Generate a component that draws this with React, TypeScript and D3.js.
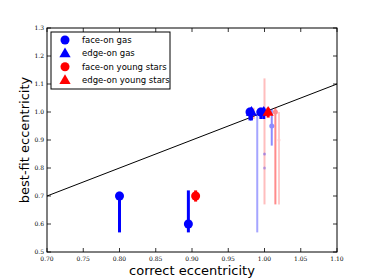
import React from 'react'
import * as d3 from 'd3'

// data
const xTicks = [0.7, 0.75, 0.8, 0.85, 0.9, 0.95, 1.0, 1.05, 1.1]
const yTicks = [0.5, 0.6, 0.7, 0.8, 0.9, 1.0, 1.1, 1.2, 1.3]

type Pt = { x: number; y: number; lo: number; hi: number; a: number; r: number }

const faceOnGas: Pt[] = [
  { x: 0.8, y: 0.7, lo: 0.57, hi: 0.715, a: 1, r: 4.5 },
  { x: 0.895, y: 0.6, lo: 0.57, hi: 0.72, a: 1, r: 4.5 },
  { x: 0.98, y: 1.0, lo: 0.97, hi: 1.015, a: 1, r: 4.5 },
  { x: 0.995, y: 1.0, lo: 0.975, hi: 1.015, a: 1, r: 4.5 },
  { x: 0.99, y: 1.0, lo: 0.57, hi: 1.0, a: 0.35, r: 1.5 },
  { x: 1.01, y: 0.95, lo: 0.88, hi: 1.01, a: 0.45, r: 2.5 },
  { x: 1.0, y: 0.85, lo: 0.85, hi: 0.85, a: 0.3, r: 1.5 },
  { x: 1.0, y: 0.8, lo: 0.8, hi: 0.8, a: 0.25, r: 1.5 },
]
const edgeOnGas: Pt[] = [
  { x: 0.982, y: 1.0, lo: 0.97, hi: 1.015, a: 1, r: 4 },
  { x: 0.999, y: 1.0, lo: 0.975, hi: 1.015, a: 1, r: 4 },
]
const faceOnStars: Pt[] = [
  { x: 0.905, y: 0.7, lo: 0.68, hi: 0.72, a: 1, r: 4.5 },
  { x: 1.015, y: 1.0, lo: 0.67, hi: 1.015, a: 0.45, r: 2.5 },
  { x: 1.0, y: 1.0, lo: 0.67, hi: 1.12, a: 0.25, r: 1 },
  { x: 1.02, y: 0.9, lo: 0.67, hi: 1.0, a: 0.2, r: 1.5 },
  { x: 0.985, y: 1.0, lo: 0.975, hi: 1.015, a: 0.3, r: 1 },
]
const edgeOnStars: Pt[] = [
  { x: 1.005, y: 1.0, lo: 0.98, hi: 1.015, a: 1, r: 4 },
]

const legendItems = [
  { label: 'face-on gas', color: '#0000ff', shape: 'circle' },
  { label: 'edge-on gas', color: '#0000ff', shape: 'triangle' },
  { label: 'face-on young stars', color: '#ff0000', shape: 'circle' },
  { label: 'edge-on young stars', color: '#ff0000', shape: 'triangle' },
]

const W = 374
const H = 280
const m = { left: 47, right: 37, top: 28, bottom: 28 }

export default () => {
  const x = d3.scaleLinear().domain([0.7, 1.1]).range([m.left, W - m.right])
  const y = d3.scaleLinear().domain([0.5, 1.3]).range([H - m.bottom, m.top])
  const tri = d3.symbol().type(d3.symbolTriangle)

  const marks = (pts: Pt[], color: string, shape: string) =>
    pts.map((p, i) => (
      <g key={shape + color + i} opacity={p.a}>
        <line x1={x(p.x)} x2={x(p.x)} y1={y(p.lo)} y2={y(p.hi)} stroke={color} strokeWidth={p.r > 3 ? 3 : 2} />
        {shape === 'circle' ? (
          <circle cx={x(p.x)} cy={y(p.y)} r={p.r} fill={color} />
        ) : (
          <path d={tri.size(p.r * p.r * 3.4)() as string} transform={`translate(${x(p.x)},${y(p.y) + 0.5})`} fill={color} />
        )}
      </g>
    ))

  const serif = 'DejaVu Serif, serif'
  const sans = 'DejaVu Sans, sans-serif'
  const [x0, x1] = x.range()
  const [y0, y1] = y.range()

  return (
    <svg width={W} height={H} style={{ position: 'absolute', left: 0, top: 0, background: '#fff' }}>
      <rect x={0} y={0} width={W} height={H} fill="#fff" />
      <line x1={x(0.7)} y1={y(0.7)} x2={x(1.1)} y2={y(1.1)} stroke="#000" strokeWidth={1} />
      {marks(faceOnStars.slice(1), '#ff0000', 'circle')}
      {marks(faceOnGas.slice(4), '#0000ff', 'circle')}
      {marks(faceOnGas.slice(0, 4), '#0000ff', 'circle')}
      {marks(edgeOnGas, '#0000ff', 'triangle')}
      {marks(faceOnStars.slice(0, 1), '#ff0000', 'circle')}
      {marks(edgeOnStars, '#ff0000', 'triangle')}

      <rect x={x0} y={y1} width={x1 - x0} height={y0 - y1} fill="none" stroke="#000" strokeWidth={1} />
      {xTicks.map((t) => (
        <g key={'x' + t}>
          <line x1={x(t)} x2={x(t)} y1={y0} y2={y0 - 4} stroke="#000" strokeWidth={0.8} />
          <line x1={x(t)} x2={x(t)} y1={y1} y2={y1 + 4} stroke="#000" strokeWidth={0.8} />
          <text x={x(t)} y={y0 + 8.5} fontSize={6} fontFamily={serif} textAnchor="middle" fill="#000">
            {d3.format('.2f')(t)}
          </text>
        </g>
      ))}
      {yTicks.map((t) => (
        <g key={'y' + t}>
          <line x1={x0} x2={x0 + 4} y1={y(t)} y2={y(t)} stroke="#000" strokeWidth={0.8} />
          <line x1={x1} x2={x1 - 4} y1={y(t)} y2={y(t)} stroke="#000" strokeWidth={0.8} />
          <text x={x0 - 3} y={y(t) + 1.8} fontSize={6} fontFamily={serif} textAnchor="end" fill="#000">
            {d3.format('.1f')(t)}
          </text>
        </g>
      ))}

      <text x={(x0 + x1) / 2} y={275} fontSize={13} fontFamily={sans} textAnchor="middle" fill="#000">
        correct eccentricity
      </text>
      <text transform={`translate(29,${(y0 + y1) / 2}) rotate(-90)`} fontSize={13} fontFamily={sans} textAnchor="middle" fill="#000">
        best-fit eccentricity
      </text>

      <rect x={51} y={32} width={119} height={57} fill="#fff" stroke="#000" strokeWidth={1} />
      {legendItems.map((d, i) => {
        const cy = 40 + i * 13.4
        return (
          <g key={d.label}>
            {d.shape === 'circle' ? (
              <circle cx={65} cy={cy} r={4.5} fill={d.color} />
            ) : (
              <path d={tri.size(55)() as string} transform={`translate(65,${cy + 0.5})`} fill={d.color} />
            )}
            <text x={82} y={cy + 3} fontSize={8.5} fontFamily={sans} fill="#000">
              {d.label}
            </text>
          </g>
        )
      })}
    </svg>
  )
}
